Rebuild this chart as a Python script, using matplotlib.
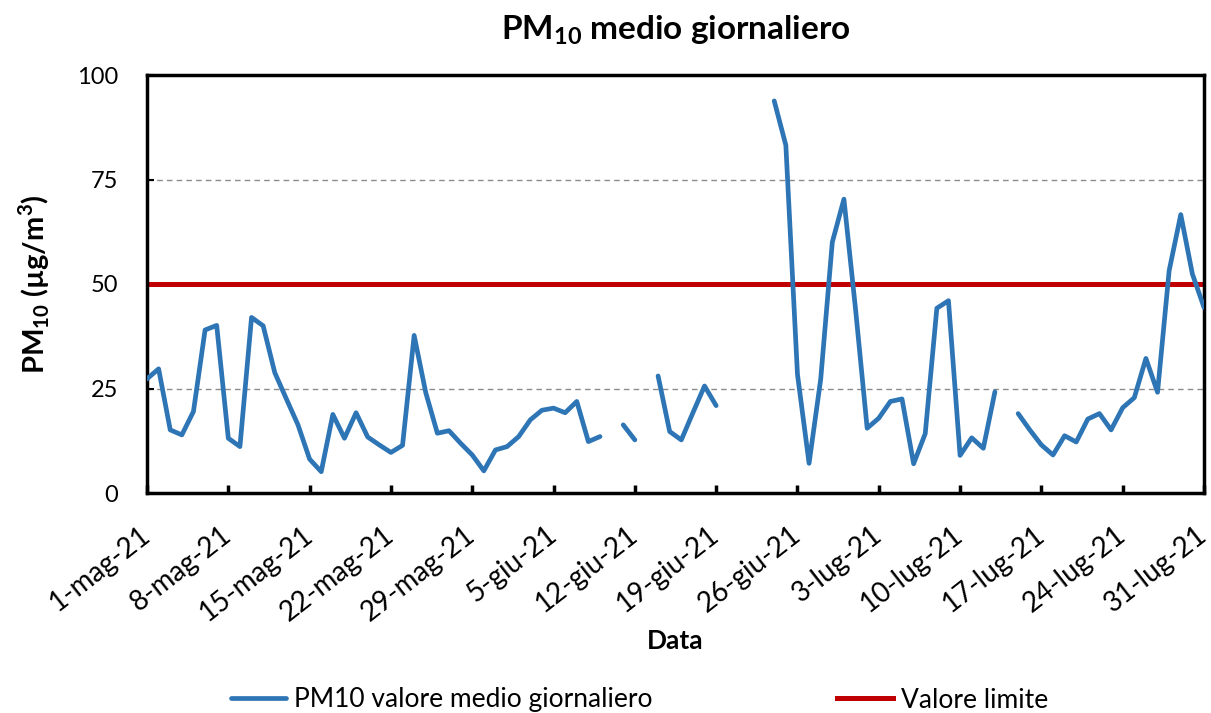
import matplotlib.pyplot as plt
import numpy as np

plt.rcParams['font.family'] = ['Lato', 'DejaVu Sans']
plt.rcParams['mathtext.fontset'] = 'custom'
plt.rcParams['mathtext.rm'] = 'Lato'
plt.rcParams['mathtext.bf'] = 'Lato:bold'

# Data: daily PM10 mean, 1 May - 31 Jul 2021 (day 0 = 1-mag-21), NaN = missing
nan = np.nan
pm10 = [27.3, 29.7, 15.1, 13.9, 19.5, 39.0, 40.1, 13.1, 11.1, 42.0,
        40.0, 28.8, 22.5, 16.3, 8.1, 5.1, 18.8, 13.1, 19.2, 13.4,
        11.5, 9.7, 11.4, 37.7, 24.0, 14.3, 14.9, 11.9, 9.1, 5.3,
        10.3, 11.1, 13.5, 17.5, 19.8, 20.3, 19.2, 21.9, 12.3, 13.5,
        nan, 16.3, 12.7, nan, 28.0, 14.7, 12.7, 19.2, 25.6, 20.9,
        nan, nan, nan, nan, 93.8, 83.2, 28.4, 7.1, 27.2, 60.0,
        70.3, 44.0, 15.5, 17.9, 21.9, 22.5, 7.0, 14.2, 44.2, 46.0,
        9.0, 13.2, 10.7, 24.2, nan, 19.0, 15.1, 11.5, 9.1, 13.7,
        12.2, 17.7, 19.0, 15.1, 20.4, 22.8, 32.2, 24.1, 53.2, 66.6,
        52.4, 44.4]
limit = 50
days = np.arange(len(pm10))
tick_days = np.arange(0, 92, 7)
tick_labels = ['1-mag-21', '8-mag-21', '15-mag-21', '22-mag-21', '29-mag-21',
               '5-giu-21', '12-giu-21', '19-giu-21', '26-giu-21', '3-lug-21',
               '10-lug-21', '17-lug-21', '24-lug-21', '31-lug-21']

fig = plt.figure(figsize=(12.11, 7.13), dpi=100)
ax = fig.add_axes([147/1211, 1 - 493/713, 1057/1211, 418/713])

ax.plot(days, pm10, color='#2E75B6', lw=3.4, solid_capstyle='round',
        label='PM10 valore medio giornaliero', zorder=3)
ax.axhline(limit, color='#C00000', lw=3.6, label='Valore limite', zorder=2)

ax.set_xlim(0, 91)
ax.set_ylim(0, 100)
ax.set_yticks([0, 25, 50, 75, 100])
ax.set_xticks(tick_days)
ax.set_xticklabels(tick_labels, rotation=38, ha='right', va='center',
                   rotation_mode='anchor', fontsize=20)
ax.tick_params(axis='x', direction='in', length=6, width=2.5, pad=28)
ax.tick_params(axis='y', direction='in', length=5, width=1.5, labelsize=17, pad=21)
ax.grid(axis='y', color='#8c8c8c', ls=(0, (4, 3)), lw=1)
for s in ax.spines.values():
    s.set_linewidth(2.5)

ax.set_title(r'PM$_{\mathbf{10}}$ medio giornaliero', fontsize=24, fontweight='bold', pad=26)
ax.set_xlabel('Data', fontsize=19, fontweight='bold', labelpad=2)
ax.set_ylabel(r'PM$_{\mathbf{10}}$ (µg/m$^{\mathbf{3}}$)', fontsize=21, fontweight='bold', labelpad=18)

fig.legend(loc='center left', bbox_to_anchor=(207/1211, 13/713), ncol=2,
           frameon=False, fontsize=19, handlelength=2.1, handletextpad=0.3,
           columnspacing=7.0)

fig.savefig('out.png', dpi=100)
